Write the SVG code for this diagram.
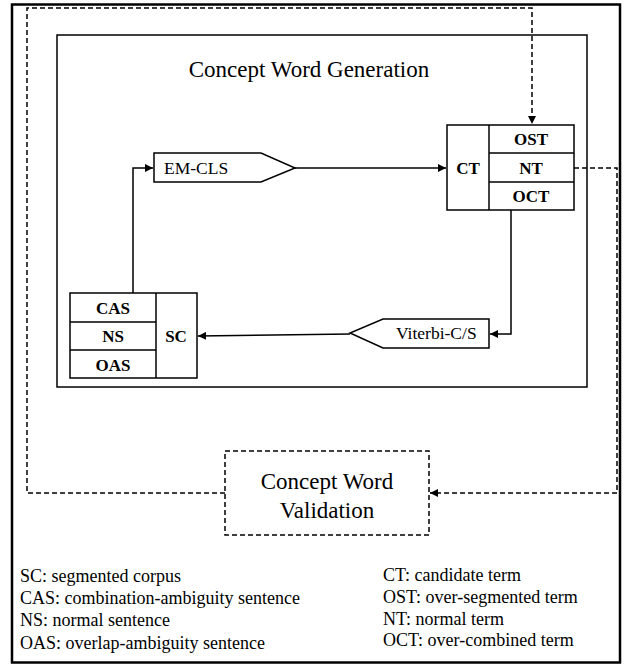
<svg xmlns="http://www.w3.org/2000/svg" width="624" height="666" viewBox="0 0 624 666">
<style>
text{font-family:'Liberation Serif','Tinos','Times New Roman','DejaVu Serif',serif;fill:#000}
.box{fill:#fff;stroke:#000;stroke-width:1.5}
.b{font-weight:bold;font-size:17px;text-anchor:middle}
.lbl{font-size:17.5px}
.leg{font-size:18px}
.solid{fill:none;stroke:#000;stroke-width:1.5}
.dash{fill:none;stroke:#000;stroke-width:1.5;stroke-dasharray:5,3}
</style>
<defs>
<marker id="ah" viewBox="0 0 10 10" refX="10" refY="5" markerWidth="8" markerHeight="8" markerUnits="userSpaceOnUse" orient="auto">
<path d="M0,0 L10,5 L0,10 z" fill="#000"/>
</marker>
</defs>
<rect x="12" y="4.5" width="608" height="658" fill="#fff" stroke="#000" stroke-width="2.5"/>
<g id="generation">
<rect x="57" y="35" width="530" height="352" fill="none" stroke="#000" stroke-width="1.5"/>
<text x="309" y="77" font-size="23" text-anchor="middle">Concept Word Generation</text>
</g>
<g id="connectors">
<polyline class="dash" points="225,493 27,493 27,8 532,8 532,124" marker-end="url(#ah)"/>
<polyline class="dash" points="574,168 617,168 617,493 430,493" marker-end="url(#ah)"/>
<line class="solid" x1="295" y1="168" x2="446" y2="168" marker-end="url(#ah)"/>
<polyline class="solid" points="133,293 133,168 153,168" marker-end="url(#ah)"/>
<polyline class="solid" points="511,210 511,334 490,334" marker-end="url(#ah)"/>
<line class="solid" x1="350" y1="334" x2="198" y2="336" marker-end="url(#ah)"/>
</g>
<g id="ct">
<rect class="box" x="447" y="125" width="127" height="85"/>
<line class="solid" x1="489" y1="125" x2="489" y2="210"/>
<line class="solid" x1="489" y1="153" x2="574" y2="153"/>
<line class="solid" x1="489" y1="182" x2="574" y2="182"/>
<text class="b" x="468" y="174">CT</text>
<text class="b" x="531" y="145">OST</text>
<text class="b" x="531" y="174">NT</text>
<text class="b" x="531" y="202">OCT</text>
</g>
<g id="sc">
<rect class="box" x="70" y="293" width="127" height="85"/>
<line class="solid" x1="156" y1="293" x2="156" y2="378"/>
<line class="solid" x1="70" y1="322" x2="156" y2="322"/>
<line class="solid" x1="70" y1="350" x2="156" y2="350"/>
<text class="b" x="176" y="342">SC</text>
<text class="b" x="113" y="314">CAS</text>
<text class="b" x="113" y="342">NS</text>
<text class="b" x="113" y="371">OAS</text>
</g>
<g id="emcls">
<polygon class="box" points="154,153 261,153 295,168 261,182 154,182"/>
<text class="lbl" x="164" y="174">EM-CLS</text>
</g>
<g id="viterbi">
<polygon class="box" points="489,319 383,319 350,333 383,348 489,348"/>
<text class="lbl" x="396" y="339">Viterbi-C/S</text>
</g>
<g id="validation">
<rect x="225" y="451" width="204" height="84" fill="#fff" class="dash"/>
<text x="327" y="489" font-size="23" text-anchor="middle">Concept Word</text>
<text x="327" y="518" font-size="23" text-anchor="middle">Validation</text>
</g>
<g id="legend">
<text class="leg" x="20" y="582">SC: segmented corpus</text>
<text class="leg" x="20" y="604">CAS: combination-ambiguity sentence</text>
<text class="leg" x="20" y="626">NS: normal sentence</text>
<text class="leg" x="20" y="649">OAS: overlap-ambiguity sentence</text>
<text class="leg" x="383" y="581">CT: candidate term</text>
<text class="leg" x="383" y="603">OST: over-segmented term</text>
<text class="leg" x="383" y="625">NT: normal term</text>
<text class="leg" x="383" y="646">OCT: over-combined term</text>
</g>
</svg>
